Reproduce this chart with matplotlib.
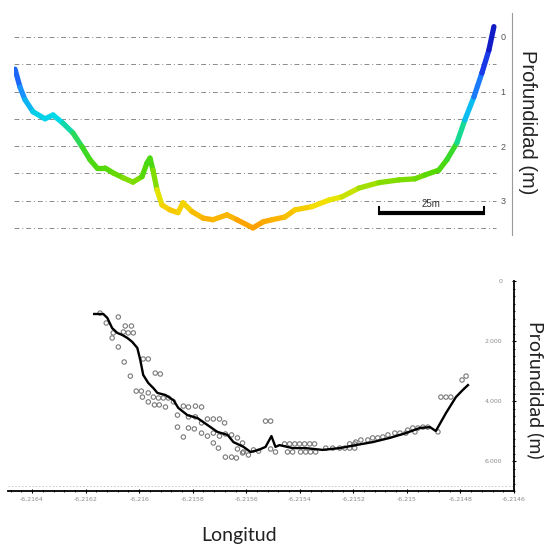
import numpy as np
import matplotlib
matplotlib.use('Agg')
import matplotlib.pyplot as plt
from matplotlib.collections import LineCollection
from matplotlib.colors import LinearSegmentedColormap
from matplotlib.ticker import FuncFormatter, MultipleLocator

# upper profile: distance along section (m) vs depth (m)
prof_dist = [0.24, 1.43, 2.62, 4.52, 7.38, 9.29, 11.67, 14.05, 16.19, 18.10,
             19.76, 21.67, 23.57, 25.95, 28.33, 30.48, 31.67, 32.38, 33.10, 34.05,
             35.24, 37.14, 39.05, 40.24, 42.38, 45.0, 47.38, 50.71, 53.10, 56.90,
             59.29, 61.43, 64.52, 66.90, 70.95, 75.0, 78.10, 82.14, 86.90, 91.67,
             95.48, 97.86, 101.19, 103.10, 105.48, 107.38, 109.52, 111.43, 113.10, 114.29]
prof_depth = [0.59, 0.92, 1.15, 1.37, 1.50, 1.43, 1.58, 1.76, 2.01, 2.25,
              2.40, 2.40, 2.49, 2.58, 2.66, 2.56, 2.31, 2.22, 2.44, 2.80,
              3.08, 3.17, 3.22, 3.04, 3.20, 3.32, 3.35, 3.26, 3.35, 3.50,
              3.39, 3.35, 3.30, 3.17, 3.11, 2.99, 2.93, 2.77, 2.67, 2.62,
              2.60, 2.53, 2.44, 2.25, 1.94, 1.52, 1.10, 0.66, 0.24, -0.19]
grid_levels = [0, 0.5, 1, 1.5, 2, 2.5, 3, 3.5]
bar_start, bar_len, bar_depth = 86.9, 25, 3.22

# lower profile: longitude vs depth, averaged line and raw soundings
line_lon = [-6.216168, -6.216134, -6.216119, -6.216101, -6.216082, -6.216063, -6.216044,
            -6.216026, -6.216007, -6.215996, -6.215985, -6.215966, -6.215947, -6.215932,
            -6.215902, -6.215872, -6.215854, -6.215820, -6.215782, -6.215745, -6.215708,
            -6.215670, -6.215648, -6.215610, -6.215584, -6.215554, -6.215528, -6.215506,
            -6.215491, -6.215476, -6.215427, -6.215378, -6.215315, -6.215251, -6.215191,
            -6.215128, -6.215064, -6.215004, -6.214952, -6.214914, -6.214892, -6.214854,
            -6.214817, -6.214791, -6.214772]
line_depth = [1.10, 1.10, 1.23, 1.57, 1.73, 1.80, 1.90,
              2.03, 2.23, 2.63, 3.13, 3.40, 3.57, 3.73,
              3.80, 3.97, 4.23, 4.47, 4.57, 4.80, 5.03,
              5.13, 5.37, 5.53, 5.70, 5.63, 5.53, 5.17,
              5.53, 5.47, 5.57, 5.57, 5.63, 5.57, 5.47,
              5.37, 5.23, 5.07, 4.90, 4.87, 5.00, 4.40,
              3.87, 3.63, 3.47]

pts_lon = [-6.216146, -6.216123, -6.216078, -6.216052, -6.216029, -6.216097, -6.216101,
           -6.216059, -6.216041, -6.216022, -6.216078, -6.216056, -6.216033, -6.215985,
           -6.215966, -6.215940, -6.215921, -6.216011, -6.215992, -6.215988, -6.215966,
           -6.215947, -6.215966, -6.215943, -6.215925, -6.215902, -6.215928, -6.215910,
           -6.215891, -6.215872, -6.215835, -6.215816, -6.215790, -6.215767, -6.215857,
           -6.215816, -6.215790, -6.215857, -6.215816, -6.215794, -6.215835, -6.215767,
           -6.215745, -6.215723, -6.215700, -6.215681, -6.215767, -6.215745, -6.215723,
           -6.215700, -6.215678, -6.215655, -6.215723, -6.215704, -6.215633, -6.215614,
           -6.215633, -6.215614, -6.215592, -6.215678, -6.215655, -6.215637, -6.215610,
           -6.215573, -6.215554, -6.215528, -6.215509, -6.215509,
           -6.215457, -6.215438, -6.215419, -6.215401, -6.215382, -6.215363, -6.215345,
           -6.215491, -6.215446, -6.215427, -6.215397, -6.215378, -6.215360, -6.215341,
           -6.215303, -6.215277, -6.215251, -6.215232, -6.215214, -6.215195,
           -6.215214, -6.215195,
           -6.215191, -6.215172, -6.215146, -6.215128, -6.215109, -6.215090, -6.215071,
           -6.215045, -6.215026, -6.214997, -6.214978, -6.214959, -6.214940, -6.214922,
           -6.215004, -6.214970, -6.214884, -6.214873, -6.214854, -6.214836,
           -6.214794, -6.214779]
pts_depth = [1.07, 1.40, 1.20, 1.50, 1.50, 1.73, 1.90,
             1.70, 1.73, 1.73, 2.20, 2.70, 3.17, 2.60,
             2.60, 3.07, 3.10, 3.67, 3.67, 3.87, 3.73,
             3.87, 4.03, 4.13, 4.13, 4.20, 3.90, 3.90,
             3.90, 4.03, 4.17, 4.20, 4.17, 4.20, 4.47,
             4.53, 4.53, 4.87, 4.90, 4.93, 5.20, 4.73,
             4.60, 4.60, 4.60, 4.73, 5.07, 5.17, 5.07,
             5.17, 5.10, 5.13, 5.40, 5.57, 5.23, 5.40,
             5.60, 5.73, 5.80, 5.87, 5.87, 5.90, 5.70,
             5.63, 5.67, 4.67, 4.67, 5.60,
             5.43, 5.43, 5.43, 5.43, 5.43, 5.43, 5.43,
             5.70, 5.70, 5.70, 5.70, 5.70, 5.70, 5.70,
             5.57, 5.57, 5.57, 5.57, 5.57, 5.57,
             5.43, 5.43,
             5.37, 5.30, 5.30, 5.23, 5.23, 5.20, 5.13,
             5.07, 5.07, 4.97, 4.90, 4.90, 4.87, 4.87,
             5.07, 5.03, 5.03, 3.87, 3.87, 3.87,
             3.30, 3.17]

# depth colour ramp, blue (shallow) to orange (deep)
depth_cmap = LinearSegmentedColormap.from_list('depth', [
    (0.000, (0.05, 0.05, 0.70)),
    (0.162, (0.10, 0.20, 0.90)),
    (0.324, (0.10, 0.55, 1.00)),
    (0.459, (0.00, 0.85, 0.90)),
    (0.595, (0.20, 0.85, 0.20)),
    (0.730, (0.35, 0.85, 0.00)),
    (0.865, (0.95, 0.90, 0.00)),
    (1.000, (1.00, 0.60, 0.00))])

W, H = 544, 545
fig = plt.figure(figsize=(W / 100, H / 100), dpi=100)

# ---- upper panel: colour-coded depth profile
ax1 = fig.add_axes([14 / W, (H - 235) / H, 498 / W, 222 / H])
ax1.set_xlim(0, 118.6)
ax1.set_ylim(3.63, -0.44)
ax1.hlines(grid_levels, 0, 114.8, colors='#8a8a8a', lw=0.7,
           linestyles=[(0, (5, 3, 1, 3))])

xy = np.column_stack([prof_dist, prof_depth])
segs = np.stack([xy[:-1], xy[1:]], axis=1)
lc = LineCollection(segs, cmap=depth_cmap, norm=plt.Normalize(-0.2, 3.5),
                    linewidths=3.8, capstyle='round', joinstyle='round')
lc.set_array((np.array(prof_depth[:-1]) + np.array(prof_depth[1:])) / 2)
ax1.add_collection(lc)

# scale bar
ax1.plot([bar_start, bar_start + bar_len], [bar_depth, bar_depth], color='black',
         lw=3, solid_capstyle='butt')
ax1.plot([bar_start, bar_start], [bar_depth + 0.03, bar_depth - 0.11], color='black', lw=1.5)
ax1.plot([bar_start + bar_len] * 2, [bar_depth + 0.03, bar_depth - 0.11], color='black', lw=1.5)
ax1.text(bar_start + bar_len / 2, bar_depth - 0.06, '25m', ha='center', va='bottom',
         fontsize=7, family='Liberation Sans', color='#333333')

for s in ['top', 'left', 'bottom']:
    ax1.spines[s].set_visible(False)
ax1.spines['right'].set_color('#9a9a9a')
ax1.spines['right'].set_linewidth(0.8)
ax1.set_xticks([])
ax1.set_yticks([0, 1, 2, 3])
ax1.tick_params(axis='y', left=False, right=False, labelleft=False, labelright=True,
                pad=-8, labelsize=6.5, labelcolor='#555555')
plt.setp(ax1.get_yticklabels(), ha='right', family='Liberation Sans')
fig.text(527 / W, 1 - 122 / H, 'Profundidad (m)', rotation=-90, ha='center', va='center',
         fontsize=14.5, family='Liberation Sans', color='#222222')

# ---- lower panel: soundings and averaged profile
ax2 = fig.add_axes([8 / W, (H - 491) / H, 506 / W, 210 / H])
ax2.set_xlim(-6.21649, -6.2146)
ax2.set_ylim(7, 0)
ax2.axhline(6.83, color='#c8c8c8', lw=0.7, ls=(0, (1.5, 2)))
ax2.scatter(pts_lon, pts_depth, s=10, facecolors='none', edgecolors='#7a7a7a', linewidths=0.8)
ax2.plot(line_lon, line_depth, color='black', lw=1.7)

for s in ['top', 'left']:
    ax2.spines[s].set_visible(False)
for s in ['bottom', 'right']:
    ax2.spines[s].set_linewidth(1.3)
ax2.xaxis.set_major_locator(MultipleLocator(0.0002))
ax2.xaxis.set_minor_locator(MultipleLocator(0.00004))
ax2.xaxis.set_major_formatter(FuncFormatter(lambda v, p: ('%.4f' % v).rstrip('0').replace('.', ',')))
ax2.yaxis.tick_right()
ax2.set_yticks([0, 2, 4, 6])
ax2.yaxis.set_minor_locator(MultipleLocator(0.25))
ax2.yaxis.set_major_formatter(FuncFormatter(lambda v, p: '0' if v == 0 else '%.3f' % v))
ax2.tick_params(axis='both', which='major', direction='inout', length=3, width=0.8,
                labelsize=4.5, labelcolor='#8c8c8c')
ax2.tick_params(axis='both', which='minor', direction='inout', length=2, width=0.6)
ax2.tick_params(axis='x', pad=3)
ax2.tick_params(axis='y', pad=-10)
plt.setp(ax2.get_yticklabels(), ha='right')
fig.text(536 / W, 1 - 390 / H, 'Profundidad (m)', rotation=-90, ha='center', va='center',
         fontsize=14, family='Lato', color='#222222')
fig.text(239 / W, 1 - 535 / H, 'Longitud', ha='center', va='center',
         fontsize=14, family='Lato', color='#222222')

fig.savefig('out.png', dpi=100)
